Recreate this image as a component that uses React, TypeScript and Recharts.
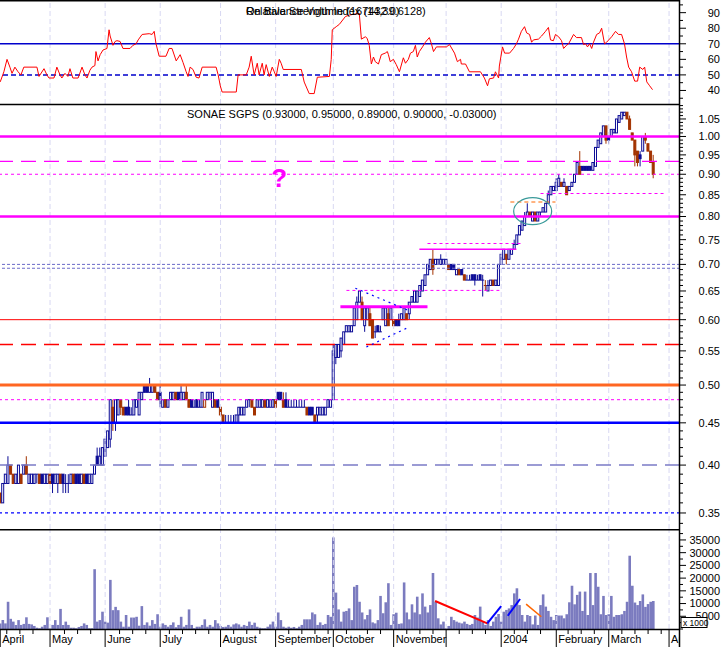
import React from "react";
import {
  ComposedChart,
  XAxis,
  YAxis,
  Bar,
  Line,
  ReferenceLine,
  ReferenceDot,
} from "recharts";

// SONAE SGPS daily bars, Apr 2003 - Mar 2004, prices in euro cents
const openC = [
  37, 36, 38, 38, 40, 39, 38, 38, 39, 39, 40, 38, 38, 38, 39, 39, 39, 38, 38, 39,
  39, 38, 38, 39, 39, 38, 38, 38, 39, 39, 39, 38, 39, 39, 38, 38, 39, 41, 40, 40,
  41, 42, 43, 47, 45, 46, 48, 47, 47, 47, 46, 46, 47, 46, 48, 50, 50, 49, 49, 50,
  49, 49, 47, 48, 47, 48, 48, 49, 49, 48, 48, 49, 48, 48, 47, 48, 47, 47, 47, 48,
  49, 47, 48, 48, 47, 46, 45, 45, 45, 45, 45, 46, 46, 46, 47, 48, 48, 47, 47, 47,
  47, 48, 47, 47, 47, 48, 49, 49, 48, 48, 47, 47, 47, 47, 47, 47, 47, 47, 47, 47,
  46, 46, 46, 46, 46, 47, 47, 48, 54, 54, 55, 56, 58, 58, 58, 59, 60, 63, 63, 59,
  60, 61, 60, 58, 59, 58, 60, 59, 61, 60, 60, 60, 60, 60, 60, 61, 61, 63, 63, 63,
  64, 65, 66, 68, 69, 71, 70, 71, 70, 70, 70, 70, 70, 70, 68, 69, 69, 68, 67, 67,
  68, 68, 67, 68, 67, 66, 65, 66, 67, 66, 66, 70, 71, 72, 71, 72, 73, 74, 76, 77,
  78, 80, 81, 79, 81, 79, 81, 81, 81, 83, 85, 86, 86, 87, 88, 87, 87, 86, 87, 88,
  90, 92, 92, 92, 92, 92, 91, 92, 97, 98, 100, 103, 100, 100, 101, 101, 104, 105, 106, 107,
  105, 101, 99, 96, 95, 96, 100, 98, 96, 93,
];
const highC = [
  37, 38, 39, 41, 40, 39, 39, 40, 39, 40, 41, 39, 39, 39, 39, 39, 39, 39, 39, 39,
  39, 39, 39, 39, 39, 39, 39, 39, 39, 39, 39, 39, 39, 39, 39, 39, 40, 42, 42, 42,
  43, 44, 48, 48, 48, 48, 48, 47, 47, 48, 47, 48, 48, 49, 49, 50, 50, 51, 50, 50,
  49, 50, 48, 48, 48, 49, 49, 49, 49, 50, 49, 50, 48, 48, 48, 48, 48, 49, 48, 49,
  49, 49, 48, 48, 47, 46, 46, 46, 46, 46, 46, 47, 47, 47, 48, 48, 48, 47, 48, 48,
  48, 48, 48, 48, 48, 48, 49, 49, 49, 49, 48, 48, 48, 48, 48, 48, 48, 47, 47, 47,
  46, 47, 47, 47, 47, 48, 48, 56, 56, 56, 57, 58, 59, 59, 59, 62, 64, 65, 64, 62,
  62, 62, 60, 59, 59, 59, 62, 62, 62, 62, 60, 60, 61, 61, 62, 61, 63, 64, 65, 65,
  66, 67, 68, 70, 71, 73, 71, 71, 72, 71, 71, 70, 70, 70, 69, 69, 69, 68, 68, 68,
  68, 68, 68, 68, 68, 67, 67, 67, 67, 67, 70, 72, 73, 72, 73, 73, 75, 76, 78, 79,
  81, 83, 81, 81, 81, 81, 81, 82, 83, 86, 87, 87, 89, 90, 88, 89, 87, 87, 88, 90,
  93, 96, 92, 92, 92, 92, 93, 97, 99, 101, 103, 103, 100, 102, 102, 105, 106, 107, 107, 107,
  106, 101, 99, 96, 96, 100, 101, 98, 96, 95,
];
const lowC = [
  36, 36, 38, 38, 39, 38, 38, 38, 38, 39, 39, 38, 38, 38, 38, 38, 38, 38, 38, 38,
  37, 38, 37, 38, 37, 37, 37, 38, 38, 38, 38, 38, 38, 38, 38, 38, 39, 40, 40, 40,
  41, 42, 42, 44, 44, 46, 46, 46, 46, 46, 46, 46, 47, 46, 48, 49, 49, 49, 49, 49,
  48, 47, 47, 47, 47, 48, 48, 48, 48, 48, 48, 48, 47, 47, 47, 47, 47, 47, 47, 48,
  48, 47, 47, 47, 46, 45, 45, 45, 45, 45, 45, 45, 46, 46, 47, 47, 47, 46, 47, 47,
  47, 47, 47, 47, 47, 47, 48, 48, 47, 47, 47, 47, 47, 47, 47, 47, 47, 46, 46, 46,
  45, 45, 46, 46, 46, 47, 47, 48, 53, 54, 54, 56, 58, 58, 58, 59, 60, 63, 60, 58,
  60, 59, 57, 57, 58, 58, 60, 59, 59, 60, 59, 59, 59, 60, 60, 60, 60, 63, 63, 63,
  64, 65, 66, 68, 69, 68, 70, 70, 70, 70, 70, 69, 69, 69, 68, 68, 68, 67, 67, 67,
  67, 66, 67, 67, 64, 65, 65, 66, 66, 66, 66, 70, 71, 70, 71, 72, 73, 74, 76, 77,
  78, 80, 80, 79, 79, 79, 80, 81, 81, 83, 85, 86, 86, 87, 87, 87, 85, 86, 87, 88,
  90, 90, 91, 91, 91, 91, 91, 92, 97, 98, 100, 98, 98, 100, 101, 101, 104, 105, 106, 105,
  102, 99, 92, 92, 92, 96, 98, 96, 93, 89,
];
const closeC = [
  36, 38, 39, 40, 39, 38, 39, 40, 38, 40, 39, 39, 39, 39, 39, 38, 38, 39, 39, 38,
  38, 39, 39, 38, 38, 38, 38, 39, 38, 38, 38, 39, 38, 38, 39, 39, 40, 40, 41, 42,
  43, 44, 48, 45, 48, 48, 47, 46, 46, 46, 46, 48, 48, 49, 49, 49, 49, 50, 50, 49,
  48, 48, 48, 47, 48, 49, 49, 48, 48, 49, 49, 48, 47, 47, 47, 47, 47, 49, 48, 49,
  49, 49, 47, 47, 46, 45, 45, 45, 45, 45, 46, 47, 47, 47, 48, 48, 47, 46, 48, 48,
  48, 47, 48, 48, 48, 47, 48, 48, 47, 47, 47, 47, 47, 47, 47, 47, 47, 46, 46, 46,
  45, 47, 47, 47, 47, 48, 48, 55, 56, 56, 57, 58, 59, 59, 59, 62, 63, 65, 60, 62,
  62, 59, 57, 58, 58, 58, 62, 62, 59, 62, 59, 59, 59, 61, 62, 60, 63, 64, 65, 65,
  66, 67, 68, 70, 71, 69, 71, 71, 71, 71, 71, 69, 69, 69, 69, 68, 68, 67, 67, 67,
  67, 67, 67, 67, 67, 66, 66, 67, 66, 67, 70, 72, 73, 71, 73, 73, 74, 76, 78, 79,
  80, 81, 80, 81, 79, 81, 81, 82, 83, 85, 87, 87, 88, 89, 87, 88, 85, 87, 88, 90,
  93, 90, 91, 91, 91, 91, 93, 97, 99, 101, 103, 99, 99, 102, 102, 105, 106, 107, 107, 105,
  102, 99, 95, 93, 94, 100, 99, 96, 93, 90,
];
// volume, thousands of shares
const volumeK = [
  2.2, 3.5, 2.2, 10.7, 4, 2.9, 1.6, 3.5, 1.6, 2, 4.6, 2, 1.8, 1.2, 0.5, 0.3, 0.9, 1.6, 4.6, 0.3,
  1.6, 3.5, 1.6, 7.9, 1.6, 2.9, 1.6, 0.5, 0.5, 0.3, 0.8, 1.2, 2.2, 1.6, 0.3, 0.3, 23.5, 2.9, 3.5, 6.8,
  2.9, 2.5, 19.3, 7.4, 8.7, 7.4, 2.9, 0.9, 5.5, 0.9, 4.5, 4.5, 4.8, 1.3, 9, 1.6, 2.6, 1.3, 3.5, 2,
  5.8, 0.9, 2.2, 1.6, 0.9, 1.6, 2.6, 0.7, 1.6, 4.8, 0.9, 1.6, 7.7, 1.6, 0.3, 0.9, 0.9, 1.6, 3.8, 0.9,
  1.6, 0.9, 3.5, 2.2, 1.2, 0.8, 0.9, 1.6, 0.9, 1.8, 2.2, 1.8, 0.9, 1.6, 1.2, 2.9, 1.6, 2.5, 0.9, 0.5,
  0.3, 0.3, 0.9, 1.8, 2.9, 0.9, 6.5, 3.5, 0.9, 0.5, 0.9, 0.5, 0.8, 0.3, 0.9, 1.6, 3.8, 3.8, 3.8, 6.5,
  5.8, 1.6, 2.6, 1.6, 2, 5.5, 4.8, 36, 14.3, 7.7, 2.9, 6.8, 7.1, 8.1, 3.5, 16.6, 17.3, 10.7, 6.5, 3.8,
  5.5, 7.7, 2.6, 2.2, 3.5, 13, 6.2, 10.5, 18, 1.6, 5.8, 6.4, 2, 2.2, 18.3, 6.5, 3.8, 9.7, 6.5, 12.7,
  5.8, 14, 8.8, 6.5, 9.4, 22, 10.7, 4.2, 1.8, 2.9, 0.3, 1.2, 4.8, 3.5, 2.9, 2.5, 2.2, 2.9, 2, 1.6,
  2, 5.5, 4.5, 8.8, 2.9, 1.6, 3.5, 1.2, 2.9, 4.8, 5.9, 2.9, 6.8, 7.5, 8.1, 9.4, 14, 16, 9.4, 5.5,
  2.9, 5.5, 5.1, 1.8, 5.3, 1.6, 9.4, 13.6, 8.8, 7.1, 4.8, 3.5, 5.5, 5.3, 5.3, 4.2, 5.8, 10.5, 17, 9.7,
  13.4, 14.7, 7.1, 14.7, 5.5, 22, 9.4, 22, 16.6, 5.8, 13, 5.5, 5.8, 13, 4.8, 5.5, 5.5, 5.8, 7.1, 10.7,
  28.8, 17, 10.4, 9.4, 11, 13.6, 8.7, 9.8, 10.7, 11,
];
// RSI readings: [trading day, value]
const rsiPoints: [number, number][] = [
  [0, 45.5], [1.4, 52], [2.6, 60], [3.7, 55], [4.5, 51], [5.6, 55], [6.8, 52], [7.9, 50], [9, 55], [14, 55],
  [14.8, 49], [16.7, 54], [17.8, 50], [18.6, 48], [20.5, 48], [21.6, 55], [22.8, 50], [23.5, 48], [24.7, 51], [25.8, 49],
  [26.6, 54], [27.7, 48], [29.7, 48], [31.2, 55], [32.3, 50], [33.1, 48], [34.2, 53], [35, 55], [36.1, 56], [36.5, 65],
  [37.3, 59], [38.1, 63], [39.2, 66], [40.7, 67], [41.5, 79], [41.9, 75], [43, 69], [43.8, 71.5], [44.5, 72], [45.7, 71.5],
  [46.8, 67], [49.5, 67], [50.6, 69], [51.8, 70], [52.6, 72.5], [54.1, 76], [56.8, 76.5], [57.9, 76], [58.7, 78], [59.4, 70],
  [60.6, 62], [63.2, 62], [64.4, 67], [65.5, 67], [67.1, 59], [68.6, 63], [69.7, 58], [70.9, 52], [71.6, 49], [72.4, 55],
  [73.5, 53.5], [74.7, 48.5], [75.8, 48], [77, 55], [82.3, 55], [83.1, 50], [83.9, 43], [84.6, 39], [90, 39], [90.7, 50],
  [93.8, 50], [94.9, 55], [95.7, 62], [96.8, 50], [98, 57.5], [98.7, 50], [99.9, 57.5], [100.6, 50], [101.4, 56.6], [102.6, 49],
  [103.7, 55], [104.5, 52], [105.2, 49], [106.4, 60], [107.1, 57.5], [107.9, 53.5], [114.8, 53.5], [115.9, 45.4], [117.8, 38], [119.7, 38],
  [120.9, 48.5], [125.5, 49], [126.2, 60], [126.6, 79], [128.1, 81], [129.3, 82.5], [131.6, 87.5], [133.1, 88.5], [136.9, 89.5], [137.7, 73],
  [139.2, 74.5], [139.9, 73.5], [140.7, 69], [141.5, 57], [142.3, 61.5], [143, 58.5], [144.2, 57], [145.3, 63], [146.8, 64], [147.6, 65],
  [148, 63], [148.7, 58.5], [149.9, 60], [151, 56.6], [152.2, 52], [153.7, 61], [154.5, 57.5], [155.6, 60], [156.4, 64], [157.5, 65],
  [158.3, 69], [159, 61.5], [159.8, 65], [161, 68], [162.1, 71], [163.6, 74], [164.4, 70], [165.2, 65], [166.3, 68], [170.1, 68],
  [171.3, 69.5], [173.2, 64], [174.3, 58.5], [175.5, 60], [175.8, 57], [177.4, 57], [178.9, 52], [183.1, 52], [184.6, 48], [185.8, 43],
  [186.5, 47.5], [188.1, 48], [188.8, 52], [190, 48], [190.3, 55.7], [191.5, 68], [192.3, 64], [194.2, 64], [195.7, 67], [196.8, 70],
  [197.6, 73], [198.7, 78], [199.9, 81], [200.7, 77], [201.8, 76], [202.6, 71], [203.3, 72.5], [205.2, 73], [206.4, 75], [207.9, 78],
  [209, 80.5], [209.8, 72.5], [210.9, 72], [211.7, 76], [212.9, 74.5], [214, 72], [214.8, 67], [215.9, 69], [216.7, 70], [218.6, 76],
  [219.7, 74], [221.6, 74], [222.4, 69.5], [223.2, 70], [223.9, 68], [224.7, 70], [225.5, 67], [226.2, 71], [227.4, 76], [228.5, 77],
  [229.3, 80], [230.4, 70], [231.2, 71], [233.1, 74.5], [234.6, 78], [235.7, 76], [236.9, 76], [238, 70], [238.8, 61.5], [239.6, 55],
  [240.7, 52], [241.9, 46], [243, 46], [243.8, 55], [245, 53.5], [245.7, 55], [246.5, 45.5], [247.6, 43], [248.7, 40.5],
];

// time axis (trading-day index)
const monthDays = [0, 19, 40, 61, 84, 105, 127, 150, 170, 191, 212, 232, 255];
const monthLabels = ["April", "May", "June", "July", "August", "September", "October", "November", "", "2004", "February", "March", "April"];
const weekDays = [
  2.5, 7.5, 12.5, 24.5, 29.5, 34.5, 45.5, 50.5, 55.5, 64.5, 69.5, 74.5, 79.5, 89, 94, 99, 110, 115, 120, 125,
  132, 140, 145, 155, 160, 165, 175, 180, 185, 196, 201, 206, 216.5, 221.5, 226.5, 237, 242, 247, 252,
];

const rsiMajor = [40, 50, 60, 70, 80, 90];
const rsiTicks = [35, 40, 45, 50, 55, 60, 65, 70, 75, 80, 85, 90, 95];
const priceMajor = [0.35, 0.4, 0.45, 0.5, 0.55, 0.6, 0.65, 0.7, 0.75, 0.8, 0.85, 0.9, 0.95, 1, 1.05];
const volMajor = [5000, 10000, 15000, 20000, 25000, 30000, 35000];

// drawn studies
const rsiLevels = [70, 50];
const priceLevels = [1.0, 0.933, 0.9, 0.8, 0.7, 0.6925, 0.6, 0.56, 0.5, 0.48, 0.45, 0.4, 0.35];
const priceSegments: [number, number, number, number][] = [
  [206, 0.853, 253, 0.853],
  [194.5, 0.833, 211.7, 0.833],
  [159.8, 0.73, 196.8, 0.73],
  [162.9, 0.742, 198.4, 0.742],
  [132, 0.651, 190.3, 0.651],
  [129.7, 0.622, 162.9, 0.622],
  [135.4, 0.655, 156, 0.615],
  [139.6, 0.556, 156, 0.588],
];
const volumeSegments: [number, number, number, number][] = [
  [165.8, 11000, 185.7, 2200],
  [185.7, 2200, 191, 9000],
  [193.5, 5200, 198.2, 11800],
  [200.5, 9800, 206.3, 4800],
];
const circled = { d: 203, p: 0.812 };
const question = { d: 106.4, p: 0.891 };

// styles
const FONT = '"Liberation Sans", Arial, sans-serif';
const PLOT_R = 680;
const X_DOMAIN: [number, number] = [-0.08, 259.17];
const UP = "#0c0c96";
const DOWN = "#a33300";
const GRID = "#d8d8f2";
const MAG = "#ff00ff";
const levelStyles = [
  { c: MAG, w: 2.5 },
  { c: MAG, w: 1.2, d: "15 8" },
  { c: MAG, w: 1, d: "3 3" },
  { c: MAG, w: 2.5 },
  { c: "#6b6bc9", w: 1, d: "3 2" },
  { c: "#6b6bc9", w: 1, d: "3 2" },
  { c: "#ff0000", w: 1 },
  { c: "#ff0000", w: 1.5, d: "15 8" },
  { c: "#ff6622", w: 3 },
  { c: MAG, w: 1, d: "3 3" },
  { c: "#0000ff", w: 2.5 },
  { c: "#7b7bc6", w: 1.5, d: "15 8" },
  { c: "#0000ff", w: 1.2, d: "3 3" },
];
const segmentStyles = [
  { c: MAG, w: 1, d: "3 3" },
  { c: "#ff6600", w: 1, d: "4 3" },
  { c: MAG, w: 1.5 },
  { c: MAG, w: 1, d: "3 3" },
  { c: MAG, w: 1, d: "3 3" },
  { c: MAG, w: 3 },
  { c: "#0000ff", w: 1.2, d: "2 4" },
  { c: "#0000ff", w: 1.2, d: "2 4" },
];
const volSegStyles = [
  { c: "#ff0000", w: 2 },
  { c: "#0000ff", w: 2 },
  { c: "#0000ff", w: 2 },
  { c: "#ff6600", w: 1.5 },
];

const rows = openC.map((o, i) => ({
  d: i,
  o: o / 100,
  h: highC[i] / 100,
  l: lowC[i] / 100,
  c: closeC[i] / 100,
  range: [lowC[i] / 100, highC[i] / 100],
  rising: i === 0 ? closeC[i] >= o : closeC[i] >= closeC[i - 1],
  vol: volumeK[i] * 1000,
}));
const rsiRows = rsiPoints.map(([d, v]) => ({ d, v }));
const priceTicks = Array.from({ length: 76 }, (_, i) => (34 + i) / 100);
const volTicks = Array.from({ length: 16 }, (_, i) => i * 2500);
const xTicks = [...monthDays, ...weekDays].sort((a, b) => a - b);
const gridDays = monthDays.slice(1);

const last = rows[rows.length - 1];
const prev = rows[rows.length - 2];
const f5 = (v: number) => v.toFixed(5);
const title = `SONAE SGPS (${f5(last.o)}, ${f5(last.h)}, ${f5(last.l)}, ${f5(last.c)}, ${f5(last.c - prev.c)})`;

function Candle(props: any) {
  const { x, y, width, height, payload } = props;
  if (!payload || x == null || y == null) return <g />;
  const top = Math.min(y, y + height);
  const span = Math.abs(height);
  const cx = x + width / 2;
  const { o, h, l, c, rising } = payload;
  const k = h > l ? span / Math.log(h / l) : 0;
  const at = (v: number) => top + Math.log(h / v) * k;
  const col = rising ? UP : DOWN;
  const yo = at(o);
  const yc = at(c);
  const b0 = Math.min(yo, yc);
  const b1 = Math.max(yo, yc);
  return (
    <g>
      <line x1={cx} x2={cx} y1={top} y2={top + span} stroke={col} strokeWidth={1} />
      {b1 - b0 < 0.8 ? (
        <line x1={cx - 1.5} x2={cx + 1.5} y1={yc} y2={yc} stroke={col} strokeWidth={1} />
      ) : (
        <rect x={cx - 1} y={b0} width={2} height={b1 - b0} fill={c < o ? col : "#fff"} stroke={col} strokeWidth={1} />
      )}
    </g>
  );
}

const axisTick = (major: number[], fmt: (v: number) => string) => (props: any) => {
  const { y, payload } = props;
  const v = payload.value;
  const isMajor = major.some((m) => Math.abs(m - v) < 1e-6);
  return (
    <g>
      <line x1={PLOT_R} x2={PLOT_R + (isMajor ? 6 : 3)} y1={y} y2={y} stroke="#000" />
      {isMajor && (
        <text x={720} y={y} dy="0.35em" textAnchor="end" fontSize={11} fontFamily={FONT} fill="#000">
          {fmt(v)}
        </text>
      )}
    </g>
  );
};

function DateTick(props: any) {
  const { x, payload } = props;
  const idx = monthDays.indexOf(payload.value);
  if (idx < 0) return <line x1={x} x2={x} y1={100} y2={105} stroke="#000" />;
  const w = Math.max(0, PLOT_R - x - 1);
  return (
    <g>
      <line x1={x} x2={x} y1={100} y2={118} stroke="#000" />
      <svg x={x + 1} y={100} width={w} height={18} overflow="hidden">
        <text x={1} y={14} fontSize={11} fontFamily={FONT} fill="#000">
          {monthLabels[idx]}
        </text>
      </svg>
    </g>
  );
}

const gridLines = () =>
  gridDays.map((d) => <ReferenceLine key={"g" + d} x={d} stroke={GRID} strokeDasharray="5 3" />);

export default function App() {
  return (
    <div style={{ position: "absolute", left: 0, top: 0, width: 724, height: 647, background: "#fff", overflow: "hidden", fontFamily: FONT }}>
      <div style={{ position: "absolute", left: 0, top: 0 }}>
        <ComposedChart width={724} height={104} data={rsiRows} margin={{ top: 1, right: 0, bottom: 0, left: 0 }}>
          <XAxis type="number" dataKey="d" domain={X_DOMAIN} hide allowDataOverflow />
          <YAxis orientation="right" width={44} domain={[31.3, 97.5]} ticks={rsiTicks} interval={0}
            tick={axisTick(rsiMajor, (v) => String(v))} tickLine={false} axisLine={false} allowDataOverflow />
          {gridLines()}
          <ReferenceLine y={rsiLevels[0]} stroke="#0000cc" strokeWidth={1.5} />
          <ReferenceLine y={rsiLevels[1]} stroke="#0000cc" strokeWidth={1.5} strokeDasharray="5 3" />
          <Line dataKey="v" type="linear" stroke="#ff0000" strokeWidth={1} dot={false} isAnimationActive={false} />
        </ComposedChart>
      </div>

      <div style={{ position: "absolute", left: 0, top: 104 }}>
        <ComposedChart width={724} height={425} data={rows} margin={{ top: 0, right: 0, bottom: 0, left: 0 }}>
          <XAxis type="number" dataKey="d" domain={X_DOMAIN} hide allowDataOverflow />
          <YAxis orientation="right" width={44} scale="log" domain={[0.3347, 1.0948]} ticks={priceTicks} interval={0}
            tick={axisTick(priceMajor, (v) => v.toFixed(2))} tickLine={false} axisLine={false} allowDataOverflow />
          {gridLines()}
          <Bar dataKey="range" barSize={3} shape={Candle} isAnimationActive={false} />
          {priceLevels.map((p, i) => (
            <ReferenceLine key={"l" + i} y={p} stroke={levelStyles[i].c} strokeWidth={levelStyles[i].w}
              strokeDasharray={levelStyles[i].d} />
          ))}
          {priceSegments.map(([x1, y1, x2, y2], i) => (
            <ReferenceLine key={"s" + i} segment={[{ x: x1, y: y1 }, { x: x2, y: y2 }]} stroke={segmentStyles[i].c}
              strokeWidth={segmentStyles[i].w} strokeDasharray={segmentStyles[i].d} ifOverflow="visible" />
          ))}
          <ReferenceDot x={circled.d} y={circled.p} r={10} ifOverflow="visible"
            shape={(p: any) => <ellipse cx={p.cx} cy={p.cy} rx={19} ry={13.5} fill="none" stroke="#3a9a9a" strokeWidth={1.2} />} />
          <ReferenceDot x={question.d} y={question.p} r={10} ifOverflow="visible"
            shape={(p: any) => (
              <text x={p.cx} y={p.cy} dy="0.36em" textAnchor="middle" fontSize={26} fontWeight="bold" fontFamily={FONT} fill={MAG}>
                ?
              </text>
            )} />
        </ComposedChart>
      </div>

      <div style={{ position: "absolute", left: 0, top: 529 }}>
        <ComposedChart width={724} height={118} data={rows} margin={{ top: 0, right: 0, bottom: 0, left: 0 }}>
          <XAxis type="number" dataKey="d" domain={X_DOMAIN} ticks={xTicks} interval={0} tick={DateTick}
            tickLine={false} axisLine={false} height={18} allowDataOverflow />
          <YAxis orientation="right" width={44} domain={[0, 39300]} ticks={volTicks} interval={0}
            tick={axisTick(volMajor, (v) => String(v))} tickLine={false} axisLine={false} allowDataOverflow />
          {gridLines()}
          <Bar dataKey="vol" fill="#7b7bbf" barSize={2.6} isAnimationActive={false} />
          {volumeSegments.map(([x1, y1, x2, y2], i) => (
            <ReferenceLine key={"v" + i} segment={[{ x: x1, y: y1 }, { x: x2, y: y2 }]} stroke={volSegStyles[i].c}
              strokeWidth={volSegStyles[i].w} ifOverflow="visible" />
          ))}
        </ComposedChart>
      </div>

      <svg width={724} height={647} style={{ position: "absolute", left: 0, top: 0, pointerEvents: "none" }}>
        <line x1={0} x2={PLOT_R} y1={0.75} y2={0.75} stroke="#000" strokeWidth={1.5} />
        <line x1={0} x2={PLOT_R} y1={104.5} y2={104.5} stroke="#000" strokeWidth={1.5} />
        <line x1={0} x2={PLOT_R} y1={529.75} y2={529.75} stroke="#000" strokeWidth={1.5} />
        <line x1={0} x2={PLOT_R} y1={629.5} y2={629.5} stroke="#000" strokeWidth={1.5} />
        <line x1={679.5} x2={679.5} y1={0} y2={647} stroke="#000" strokeWidth={1.5} />
        <text x={246} y={14.5} fontSize={11} fontFamily={FONT} fill="#000">On Balance Volume (167432.0)</text>
        <text x={246} y={14.5} fontSize={11} fontFamily={FONT} fill="#000">Relative Strength Index (14,39.6128)</text>
        <text x={187} y={118} fontSize={11} fontFamily={FONT} fill="#000">{title}</text>
        <rect x={681} y={617.5} width={26} height={10} fill="#fff" stroke="#000" strokeWidth={1} />
        <text x={683} y={625.8} fontSize={8.5} fontFamily={FONT} fill="#000">x 1000</text>
      </svg>
    </div>
  );
}
